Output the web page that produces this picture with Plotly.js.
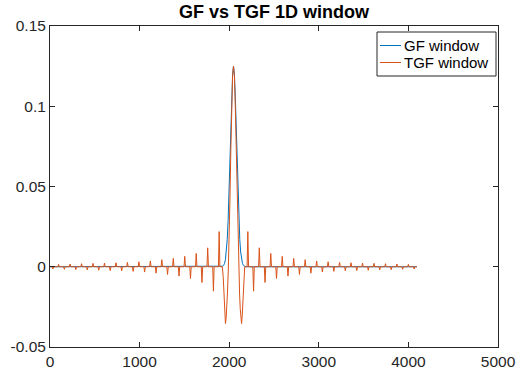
<!DOCTYPE html>
<html>
<head>
<meta charset="utf-8">
<script src="https://cdn.plot.ly/plotly-3.0.1.min.js"></script>
<style>html,body{margin:0;padding:0;background:#fff;}#chart{width:516px;height:374px;}</style>
</head>
<body>
<div id="chart"></div>
<script>
// ---- data ----
var nSamples = 4096;          // signal spans samples 0..4095
var center = 2048;            // window centre

// GF window (Gaussian): offsets from centre and values
var gfOffsets = [-140,-130,-120,-110,-100,-90,-80,-70,-60,-50,-40,-30,-20,-10,0,10,20,30,40,50,60,70,80,90,100,110,120,130,140];
var gfValues  = [0,0.0001,0.00035,0.0009,0.0021,0.0046,0.0092,0.0169,0.0288,0.0451,0.0651,0.0866,0.1062,0.1200,0.125,0.1200,0.1062,0.0866,0.0651,0.0451,0.0288,0.0169,0.0092,0.0046,0.0021,0.0009,0.00035,0.0001,0];

// TGF window main lobe (offsets from centre) and values
var tgfLobeOffsets = [-135,-125,-115,-105,-98,-90,-82,-75,-68,-58,-50,-40,-30,-20,-10,0,10,20,30,40,50,58,68,75,82,90,98,105,115,125,135];
var tgfLobeValues  = [0,0,-0.006,-0.020,-0.030,-0.0354,-0.032,-0.026,-0.017,-0.002,0.014,0.041,0.072,0.100,0.119,0.125,0.119,0.100,0.072,0.041,0.014,-0.002,-0.017,-0.026,-0.032,-0.0354,-0.030,-0.020,-0.006,0,0];

// TGF side spikes: distance from centre and signed height (same on both sides)
var spikeOffsets = [160,224,288,352,416,480,544,608,672,736,800,864,928,992,1056,1120,1184,1248,1312,1376,1440,1504,1568,1632,1696,1760,1824,1888,1952,2016];
var spikeValues  = [0.0219,-0.0152,0.0118,-0.0098,0.0083,-0.0073,0.0065,-0.0058,0.0052,-0.0048,0.0044,-0.0040,0.0036,-0.0033,0.0031,-0.0029,0.0027,-0.0025,0.0025,-0.0024,0.0023,-0.0022,0.0021,-0.0020,0.0019,-0.0018,0.0017,-0.0016,0.0015,-0.0014];

var seriesNames = ['GF window', 'TGF window'];
var seriesColors = ['#0072BD', '#D95319'];

var xTicks = [0,1000,2000,3000,4000,5000];
var yTicks = [-0.05,0,0.05,0.1,0.15];
var yTickText = ['-0.05','0','0.05','0.1','0.15'];

// ---- build traces ----
var gfX = [0], gfY = [0];
gfOffsets.forEach(function(o,i){ gfX.push(center+o); gfY.push(gfValues[i]); });
gfX.push(nSamples-1); gfY.push(0);

var hw = 8; // spike half width (drawing)
var tX = [0], tY = [0];
for (var i = spikeOffsets.length-1; i >= 0; i--) {
  var c = center - spikeOffsets[i];
  tX.push(c-hw, c, c+hw); tY.push(0, spikeValues[i], 0);
}
tgfLobeOffsets.forEach(function(o,i){ tX.push(center+o); tY.push(tgfLobeValues[i]); });
for (var j = 0; j < spikeOffsets.length; j++) {
  var c2 = center + spikeOffsets[j];
  tX.push(c2-hw, c2, c2+hw); tY.push(0, spikeValues[j], 0);
}
tX.push(nSamples-1); tY.push(0);

var traces = [
  {x: gfX, y: gfY, type: 'scatter', mode: 'lines', name: seriesNames[0],
   line: {color: seriesColors[0], width: 1}},
  {x: tX, y: tY, type: 'scatter', mode: 'lines', name: seriesNames[1],
   line: {color: seriesColors[1], width: 1}}
];

var axisCommon = {
  showgrid: false, zeroline: false, showline: true, linecolor: '#262626', linewidth: 1,
  ticks: 'inside', ticklen: 5, tickwidth: 1, tickcolor: '#262626', mirror: 'ticks',
  tickfont: {size: 15.5, color: '#262626', family: 'Liberation Sans, Arial, sans-serif'}
};

// legend drawn manually (compact MATLAB-like box), positions in plot-area fractions
var plotL = 50, plotT = 26, plotW = 448, plotH = 321;
function px(x){ return (x - plotL) / plotW; }
function py(y){ return 1 - (y - plotT) / plotH; }
var rowY = [45.5, 62.5];
var shapes = [{type: 'rect', xref: 'paper', yref: 'paper', x0: px(377), x1: px(496), y0: py(76), y1: py(32),
               line: {color: '#262626', width: 1}, fillcolor: '#fff', layer: 'above'}];
var annotations = [];
for (var k = 0; k < 2; k++) {
  shapes.push({type: 'line', xref: 'paper', yref: 'paper', x0: px(380), x1: px(401), y0: py(rowY[k]), y1: py(rowY[k]),
               line: {color: seriesColors[k], width: 1}, layer: 'above'});
  annotations.push({xref: 'paper', yref: 'paper', x: px(402), y: py(rowY[k]), xanchor: 'left', yanchor: 'middle',
                    text: seriesNames[k], showarrow: false, font: {size: 15, color: '#000'}});
}

var layout = {
  width: 516, height: 374,
  margin: {l: 50, r: 18, t: 26, b: 27},
  paper_bgcolor: '#fff', plot_bgcolor: '#fff',
  font: {family: 'Liberation Sans, Arial, sans-serif', color: '#262626'},
  title: {text: '<b>GF vs TGF 1D window</b>', font: {size: 18, color: '#000'},
          x: 0.5, xref: 'paper', xanchor: 'center', y: 1 - 12/374, yref: 'container', yanchor: 'middle'},
  xaxis: Object.assign({}, axisCommon, {range: [0, 5000], tickvals: xTicks}),
  yaxis: Object.assign({}, axisCommon, {range: [-0.05, 0.15], tickvals: yTicks, ticktext: yTickText}),
  showlegend: false,
  shapes: shapes,
  annotations: annotations
};

Plotly.newPlot('chart', traces, layout, {staticPlot: true, displayModeBar: false});
</script>
</body>
</html>
